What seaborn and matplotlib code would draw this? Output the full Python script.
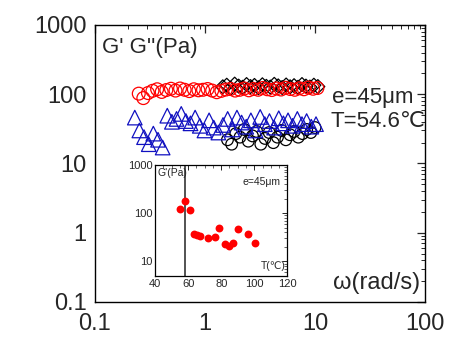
import numpy as np
import pandas as pd
import matplotlib
matplotlib.use('Agg')
import matplotlib.pyplot as plt
import seaborn as sns
from matplotlib.ticker import LogLocator, NullFormatter, FixedLocator

# Dados
# G'' (círculos vermelhos)
omega_vermelho = [0.25, 0.275, 0.303, 0.333, 0.367, 0.404, 0.445, 0.49, 0.539, 0.593,
                  0.653, 0.719, 0.791, 0.871, 0.959, 1.055, 1.161, 1.278, 1.407, 1.549,
                  1.705, 1.877, 2.066, 2.274, 2.503, 2.755, 3.033, 3.338, 3.675, 4.045,
                  4.452, 4.9, 5.394, 5.937, 6.535, 7.193, 7.917, 8.715, 9.593, 10.5]
g_vermelho = [102, 88, 104, 112, 118, 108, 115, 120, 113, 121,
              116, 111, 118, 114, 116, 119, 113, 107, 112, 117,
              119, 113, 116, 121, 114, 119, 116, 123, 118, 115,
              121, 117, 124, 119, 116, 122, 118, 125, 120, 123]

# losangos pretos
omega_losango = [1.45, 1.575, 1.711, 1.859, 2.02, 2.194, 2.384, 2.59, 2.813, 3.056,
                 3.32, 3.607, 3.919, 4.257, 4.625, 5.025, 5.459, 5.93, 6.443, 7.0,
                 7.604, 8.261, 8.975, 9.75, 10.6]
g_losango = [128, 135, 122, 140, 131, 126, 138, 129, 134, 124,
             137, 130, 127, 139, 132, 125, 136, 128, 133, 126,
             138, 131, 127, 135, 129]

# triângulos azuis
omega_azul = [0.23, 0.253, 0.279, 0.308, 0.339, 0.374, 0.412, 0.454, 0.5, 0.551,
              0.608, 0.67, 0.738, 0.813, 0.896, 0.988, 1.089, 1.2, 1.322, 1.457,
              1.606, 1.77, 1.95, 2.149, 2.369, 2.611, 2.877, 3.171, 3.494, 3.851,
              4.244, 4.677, 5.155, 5.681, 6.261, 6.9, 7.604, 8.381, 9.236, 10.2]
g_azul = [46, 30, 24, 19, 27, 22, 17, 49, 40, 44,
          52, 41, 38, 46, 35, 30, 42, 33, 28, 36,
          44, 31, 46, 39, 34, 42, 30, 47, 37, 41,
          33, 45, 38, 42, 35, 44, 37, 41, 34, 37]

# círculos pretos
omega_preto = [1.6, 1.746, 1.905, 2.078, 2.268, 2.474, 2.7, 2.946, 3.214, 3.507,
               3.826, 4.175, 4.555, 4.97, 5.423, 5.917, 6.456, 7.044, 7.686, 8.386,
               9.15, 10.0]
g_preto = [22, 19, 27, 24, 31, 21, 25, 29, 19, 23,
           28, 20, 24, 30, 22, 26, 29, 24, 27, 31,
           28, 33]

# inset: G' x temperatura
temperatura = [55, 58, 61, 63.6, 65.5, 67, 72.2, 76, 78.6, 82, 85, 87, 90, 96, 100.4]
g_temp = [119, 178, 115, 36.5, 36, 34, 30.6, 32, 48, 22.6, 20.5, 24.4, 47, 37.7, 24]
t_linha = 58

sns.set_style('white')
plt.rcParams['font.family'] = ['Liberation Sans', 'DejaVu Sans']

fig = plt.figure(figsize=(4.51, 3.41), dpi=100)
ax = fig.add_axes([0.2106, 0.1144, 0.732, 0.8123])

# Construção do gráfico principal
sns.scatterplot(x=omega_preto, y=g_preto, marker='o', s=70, facecolor='none',
                edgecolor='black', linewidth=0.9, ax=ax, zorder=3)
sns.scatterplot(x=omega_azul, y=g_azul, marker='^', s=110, facecolor='none',
                edgecolor='#1010c0', linewidth=0.9, ax=ax, zorder=3)
sns.scatterplot(x=omega_losango, y=g_losango, marker='D', s=50, facecolor='none',
                edgecolor='black', linewidth=0.9, ax=ax, zorder=3)
sns.scatterplot(x=omega_vermelho, y=g_vermelho, marker='o', s=85, facecolor='none',
                edgecolor='red', linewidth=0.9, ax=ax, zorder=4)

ax.set_xscale('log')
ax.set_yscale('log')
ax.set_xlim(0.1, 100)
ax.set_ylim(0.1, 1000)
ax.set_xticks([0.1, 1, 10, 100])
ax.set_xticklabels(['0.1', '1', '10', '100'])
ax.set_yticks([0.1, 1, 10, 100, 1000])
ax.set_yticklabels(['0.1', '1', '10', '100', '1000'])
ax.xaxis.set_minor_locator(LogLocator(base=10, subs=np.arange(2, 10)))
ax.yaxis.set_minor_locator(LogLocator(base=10, subs=np.arange(2, 10)))
ax.xaxis.set_minor_formatter(NullFormatter())
ax.yaxis.set_minor_formatter(NullFormatter())
ax.tick_params(which='major', direction='in', length=6, width=0.9, top=True, right=True,
               labelsize=17)
ax.tick_params(axis='x', which='major', pad=8)
ax.tick_params(axis='y', which='major', pad=6)
ax.tick_params(which='minor', direction='in', length=3, width=0.7, top=True, right=True)
for s in ax.spines.values():
    s.set_linewidth(1.0)
    s.set_color('black')

ax.text(0.02, 0.917, "G' G''(Pa)", transform=ax.transAxes, fontsize=16, va='center', ha='left')
ax.text(0.718, 0.74, 'e=45μm', transform=ax.transAxes, fontsize=16, va='center', ha='left')
ax.text(0.712, 0.653, 'T=54.6℃', transform=ax.transAxes, fontsize=16, va='center', ha='left')
ax.text(0.985, 0.069, 'ω(rad/s)', transform=ax.transAxes, fontsize=17, va='center', ha='right')

# Inset
axi = fig.add_axes([0.344, 0.191, 0.293, 0.3255])
sns.scatterplot(x=temperatura, y=g_temp, marker='o', s=32, color='red',
                edgecolor='red', linewidth=0, ax=axi, zorder=3)
axi.axvline(t_linha, color='#444444', linewidth=1.3, zorder=2)
axi.set_yscale('log')
axi.set_xlim(40, 120)
axi.set_ylim(5, 1000)
axi.set_xticks([40, 60, 80, 100, 120])
axi.xaxis.set_minor_locator(FixedLocator(np.arange(45, 120, 5)))
axi.set_yticks([10, 100, 1000])
axi.set_yticklabels(['10', '100', '1000'])
axi.yaxis.set_minor_locator(LogLocator(base=10, subs=np.arange(2, 10)))
axi.yaxis.set_minor_formatter(NullFormatter())
axi.tick_params(which='major', direction='in', length=3.5, width=0.7, top=True, right=True,
                labelsize=8, pad=2)
axi.tick_params(which='minor', direction='in', length=2, width=0.5, top=True, right=True)
for s in axi.spines.values():
    s.set_linewidth(0.9)
    s.set_color('black')
axi.text(0.015, 0.93, "G'(Pa)", transform=axi.transAxes, fontsize=7.5, va='center', ha='left')
axi.text(0.947, 0.85, 'e=45μm', transform=axi.transAxes, fontsize=7.5, va='center', ha='right')
axi.text(0.985, 0.09, 'T(℃)', transform=axi.transAxes, fontsize=7.5, va='center', ha='right')

plt.savefig('out.png', dpi=100)
